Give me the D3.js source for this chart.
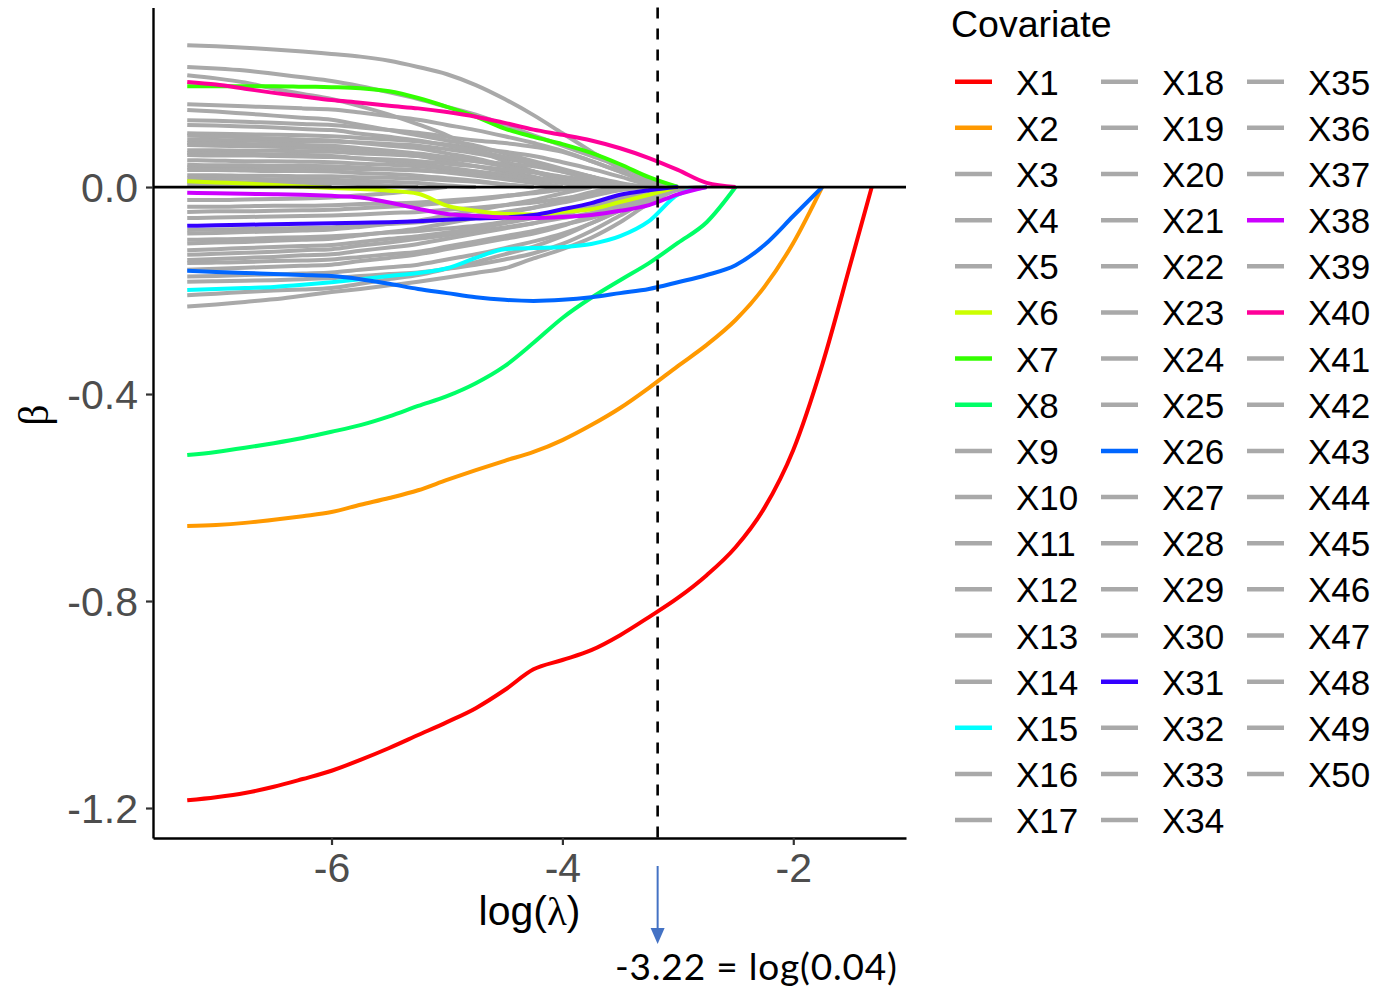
<!DOCTYPE html>
<html>
<head>
<meta charset="utf-8">
<script src="https://cdn.jsdelivr.net/npm/d3@7"></script>
<style>
  body { margin: 0; background: #fff; }
  svg text { font-family: "Liberation Sans", Arial, sans-serif; }
</style>
</head>
<body>
<div id="maViz"></div>
<script>
// grille des log(lambda) (chemin lasso)
const logLambda = [-7.25, -7, -6.75, -6.5, -6.25, -6, -5.75, -5.5, -5.25, -5, -4.75, -4.5,
  -4.25, -4, -3.75, -3.5, -3.25, -3, -2.75, -2.5, -2.25, -2, -1.75, -1.5, -1.32];

const covariates = d3.range(1, 51).map(i => "X" + i);

// coefficients beta le long de la grille, un tableau par covariable (X1 ... X50)
// chaque chemin s'arrete quand il atteint 0
const betaPaths = [
  /* X1 */ [-1.185,-1.179,-1.171,-1.159,-1.144,-1.128,-1.107,-1.084,-1.059,-1.034,-1.007,-0.972,-0.932,-0.914,-0.895,-0.866,-0.831,-0.794,-0.750,-0.696,-0.620,-0.508,-0.344,-0.145,0],
  /* X2 */ [-0.655,-0.653,-0.649,-0.643,-0.636,-0.628,-0.614,-0.601,-0.586,-0.566,-0.547,-0.529,-0.512,-0.489,-0.460,-0.427,-0.388,-0.346,-0.305,-0.257,-0.193,-0.108,0],
  /* X3 */ [.274,.272,.269,.266,.262,.257,.252,.244,.232,.218,.197,.170,.139,.104,.069,.035,.005,0],
  /* X4 */ [-.231,-.227,-.222,-.217,-.210,-.203,-.197,-.190,-.183,-.175,-.166,-.157,-.138,-.120,-.098,-.068,-.032,-.006,0],
  /* X5 */ [.160,.158,.156,.154,.152,.150,.144,.137,.130,.120,.110,.098,.085,.070,.050,.030,.010,0],
  /* X6 */ [0.011,0.009,0.007,0.004,0.001,-0.002,-0.004,-0.007,-0.013,-0.036,-0.046,-0.052,-0.053,-0.048,-0.043,-0.029,-0.015,0],
  /* X7 */ [0.195,0.195,0.195,0.195,0.194,0.193,0.191,0.185,0.172,0.155,0.136,0.113,0.097,0.083,0.066,0.044,0.019,0],
  /* X8 */ [-0.518,-0.512,-0.504,-0.495,-0.485,-0.473,-0.460,-0.443,-0.423,-0.404,-0.379,-0.346,-0.301,-0.253,-0.214,-0.180,-0.147,-0.108,-0.068,0],
  /* X9 */ [.232,.229,.225,.219,.212,.205,.195,.183,.170,.155,.140,.120,.100,.080,.060,.040,.015,0],
  /* X10 */ [-.025,-.025,-.024,-.023,-.022,-.020,-.016,-.012,-.006,0],
  /* X11 */ [.091,.091,.090,.089,.089,.088,.086,.083,.080,.073,.065,.055,.045,.032,.020,.005,0],
  /* X12 */ [-.109,-.107,-.106,-.104,-.102,-.100,-.093,-.087,-.080,-.070,-.060,-.050,-.040,-.025,-.010,0],
  /* X13 */ [.129,.128,.126,.124,.122,.120,.115,.110,.105,.097,.090,.085,.078,.068,.050,.030,.010,0],
  /* X14 */ [-.147,-.146,-.145,-.143,-.142,-.140,-.135,-.130,-.125,-.115,-.105,-.095,-.085,-.073,-.060,-.042,-.020,-.004,0],
  /* X15 */ [-0.199,-0.197,-0.195,-0.193,-0.189,-0.184,-0.178,-0.172,-0.166,-0.157,-0.137,-0.120,-0.118,-0.116,-0.110,-0.095,-0.066,-0.015,0],
  /* X16 */ [.216,.210,.202,.190,.180,.170,.156,.140,.121,.100,.072,.050,.030,.012,0],
  /* X17 */ [-.048,-.047,-.047,-.046,-.045,-.044,-.041,-.038,-.035,-.030,-.025,-.018,-.010,0],
  /* X18 */ [.071,.071,.070,.070,.069,.068,.065,.063,.060,.055,.050,.045,.040,.030,.020,.008,0],
  /* X19 */ [-.173,-.172,-.170,-.169,-.167,-.165,-.160,-.155,-.150,-.140,-.130,-.118,-.105,-.090,-.070,-.045,-.020,0],
  /* X20 */ [.104,.103,.102,.101,.100,.098,.095,.092,.088,.082,.075,.068,.060,.048,.035,.020,.005,0],
  /* X21 */ [-.083,-.082,-.081,-.080,-.079,-.078,-.075,-.071,-.068,-.062,-.055,-.048,-.040,-.030,-.018,-.006,0],
  /* X22 */ [.017,.016,.016,.015,.015,.014,.012,.010,.008,.003,0],
  /* X23 */ [-.131,-.129,-.127,-.125,-.122,-.120,-.113,-.107,-.100,-.093,-.085,-.078,-.070,-.060,-.050,-.035,-.015,0],
  /* X24 */ [.149,.146,.142,.138,.134,.130,.120,.110,.100,.090,.080,.065,.050,.035,.020,.005,0],
  /* X25 */ [-.209,-.206,-.203,-.200,-.198,-.195,-.187,-.178,-.170,-.158,-.145,-.130,-.115,-.095,-.070,-.045,-.020,0],
  /* X26 */ [-0.162,-0.164,-0.166,-0.168,-0.170,-0.172,-0.178,-0.187,-0.197,-0.205,-0.213,-0.218,-0.220,-0.218,-0.213,-0.205,-0.197,-0.184,-0.170,-0.151,-0.112,-0.056,0],
  /* X27 */ [.081,.080,.079,.078,.076,.075,.070,.065,.060,.050,.040,.030,.020,.008,0],
  /* X28 */ [-.038,-.038,-.037,-.036,-.036,-.035,-.033,-.032,-.030,-.026,-.022,-.017,-.012,-.005,0],
  /* X29 */ [.052,.051,.050,.050,.049,.048,.045,.043,.040,.035,.030,.024,.018,.010,0],
  /* X30 */ [-.102,-.101,-.100,-.098,-.097,-.095,-.092,-.088,-.085,-.080,-.075,-.067,-.058,-.047,-.035,-.020,-.006,0],
  /* X31 */ [-0.075,-0.074,-0.073,-0.072,-0.071,-0.070,-0.069,-0.068,-0.066,-0.063,-0.061,-0.059,-0.054,-0.043,-0.031,-0.015,-0.006,0],
  /* X32 */ [.120,.119,.117,.115,.112,.110,.103,.097,.090,.080,.070,.058,.045,.030,.015,0],
  /* X33 */ [-.183,-.182,-.181,-.180,-.178,-.176,-.172,-.168,-.165,-.158,-.150,-.140,-.128,-.110,-.085,-.055,-.025,-.005,0],
  /* X34 */ [.038,.038,.037,.037,.036,.036,.035,.034,.032,.029,.025,.020,.015,.008,0],
  /* X35 */ [-.122,-.120,-.118,-.116,-.114,-.112,-.106,-.100,-.095,-.088,-.080,-.070,-.060,-.050,-.040,-.025,-.010,0],
  /* X36 */ [.099,.098,.096,.094,.092,.090,.085,.080,.075,.065,.055,.042,.030,.015,0],
  /* X37 */ [-.060,-.059,-.058,-.057,-.056,-.055,-.053,-.050,-.048,-.044,-.040,-.035,-.030,-.022,-.015,-.005,0],
  /* X38 */ [-0.011,-0.012,-0.013,-0.014,-0.015,-0.017,-0.020,-0.030,-0.042,-0.052,-0.056,-0.059,-0.060,-0.058,-0.054,-0.046,-0.035,-0.014,0],
  /* X39 */ [.085,.084,.083,.082,.081,.080,.075,.070,.065,.058,.050,.040,.030,.018,.006,0],
  /* X40 */ [0.203,0.198,0.190,0.182,0.175,0.168,0.163,0.157,0.152,0.145,0.136,0.124,0.111,0.101,0.090,0.075,0.056,0.033,0.008,0],
  /* X41 */ [-.160,-.158,-.156,-.154,-.152,-.150,-.143,-.137,-.130,-.120,-.110,-.100,-.090,-.075,-.055,-.035,-.015,0],
  /* X42 */ [.066,.065,.064,.063,.062,.060,.055,.050,.045,.038,.030,.020,.010,0],
  /* X43 */ [-.090,-.089,-.087,-.086,-.084,-.082,-.077,-.071,-.065,-.055,-.045,-.035,-.025,-.012,0],
  /* X44 */ [.043,.042,.042,.041,.041,.040,.038,.035,.033,.028,.022,.015,.008,0],
  /* X45 */ [-.141,-.139,-.137,-.135,-.132,-.130,-.123,-.117,-.110,-.100,-.090,-.080,-.070,-.055,-.038,-.020,-.005,0],
  /* X46 */ [.062,.061,.061,.060,.059,.058,.055,.053,.050,.045,.040,.034,.028,.020,.012,0],
  /* X47 */ [.033,.033,.032,.031,.031,.030,.027,.025,.022,.017,.012,.005,0],
  /* X48 */ [.023,.023,.022,.022,.021,.021,.019,.018,.016,.013,.010,.005,0],
  /* X49 */ [.010,.010,.009,.009,.008,.008,.006,.003,0],
  /* X50 */ [.005,.004,.004,.003,.002,0]
];

// covariables mises en couleur (rainbow(10)), les autres en gris
const highlighted = ["X1", "X2", "X6", "X7", "X8", "X15", "X26", "X31", "X38", "X40"];
const highlightColors = ["#FF0000", "#FF9900", "#CCFF00", "#33FF00", "#00FF66",
  "#00FFFF", "#0066FF", "#3300FF", "#CC00FF", "#FF0099"];

const xTicks = [-6, -4, -2];
const yTicks = [0, -0.4, -0.8, -1.2];
const lambdaLine = -3.175;            // ligne pointillee (lambda choisi)
const lambdaLabel = "-3.22 = log(0.04)";

//////////////////////////////////////////////////////////

const W = 1399, H = 989;
const panel = {left: 153, right: 906, top: 7.5, bottom: 838};
const grey = "#A9A9A9";
const symbolFont = "'Liberation Serif', 'DejaVu Serif', serif";

const colorOf = name => {
  const k = highlighted.indexOf(name);
  return k >= 0 ? highlightColors[k] : grey;
};

const svg = d3.select("#maViz").append("svg")
  .attr("width", W).attr("height", H);

// echelles avec 5% d'expansion comme ggplot
const xExt = d3.extent(logLambda);
const xPad = (xExt[1] - xExt[0]) * 0.05;
const x = d3.scaleLinear()
  .domain([xExt[0] - xPad, xExt[1] + xPad])
  .range([panel.left, panel.right]);

const yExt = d3.extent(betaPaths.flat());
const yPad = (yExt[1] - yExt[0]) * 0.05;
const y = d3.scaleLinear()
  .domain([yExt[0] - yPad, yExt[1] + yPad])
  .range([panel.bottom, panel.top]);

// chemins : gris d'abord, couleurs par-dessus
const line = d3.line()
  .x((d, i) => x(logLambda[i]))
  .y(d => y(d))
  .curve(d3.curveMonotoneX);

const paths = covariates.map((name, k) => ({name, values: betaPaths[k]}));
const ordered = paths.filter(p => !highlighted.includes(p.name))
  .concat(paths.filter(p => highlighted.includes(p.name)));

svg.append("g").selectAll("path")
  .data(ordered)
  .join("path")
    .attr("d", d => line(d.values))
    .attr("fill", "none")
    .attr("stroke", d => colorOf(d.name))
    .attr("stroke-width", 4)
    .attr("stroke-linejoin", "round")
    .attr("stroke-linecap", "butt");

// ligne horizontale a 0
svg.append("line")
  .attr("x1", panel.left).attr("x2", panel.right)
  .attr("y1", y(0)).attr("y2", y(0))
  .attr("stroke", "#000").attr("stroke-width", 2.8);

// ligne verticale pointillee
svg.append("line")
  .attr("x1", x(lambdaLine)).attr("x2", x(lambdaLine))
  .attr("y1", panel.top).attr("y2", panel.bottom)
  .attr("stroke", "#000").attr("stroke-width", 2.6)
  .attr("stroke-dasharray", "11,10");

// axes
const yAxis = svg.append("g")
  .attr("transform", `translate(${panel.left},0)`)
  .call(d3.axisLeft(y).tickValues(yTicks).tickFormat(d => d.toFixed(1))
    .tickSize(7).tickSizeOuter(0).tickPadding(8));

const xAxis = svg.append("g")
  .attr("transform", `translate(0,${panel.bottom})`)
  .call(d3.axisBottom(x).tickValues(xTicks).tickFormat(d => String(d))
    .tickSize(7).tickSizeOuter(0).tickPadding(8));

[xAxis, yAxis].forEach(g => {
  g.select(".domain").attr("stroke", "#000").attr("stroke-width", 2.4);
  g.selectAll(".tick line").attr("stroke", "#333").attr("stroke-width", 2.2);
  g.selectAll(".tick text")
    .attr("fill", "#4D4D4D")
    .style("font-size", "41px")
    .style("font-family", "'Liberation Sans', Arial, sans-serif");
});
yAxis.selectAll(".tick text").attr("dy", "0.36em");

// titres des axes
const xTitle = svg.append("text")
  .attr("x", (panel.left + panel.right) / 2).attr("y", 925)
  .attr("text-anchor", "middle")
  .style("font-size", "41px");
xTitle.append("tspan").text("log(");
xTitle.append("tspan").style("font-family", symbolFont).text("λ");
xTitle.append("tspan").text(")");

svg.append("text")
  .attr("transform", "translate(48,415) rotate(-90)")
  .attr("text-anchor", "middle")
  .style("font-family", symbolFont)
  .style("font-size", "42px")
  .text("β");

// annotation fleche + texte
const ax = x(lambdaLine);
svg.append("line")
  .attr("x1", ax).attr("x2", ax).attr("y1", 866).attr("y2", 930)
  .attr("stroke", "#4472C4").attr("stroke-width", 2);
svg.append("path")
  .attr("d", `M${ax - 7},928 L${ax + 7},928 L${ax},944 Z`)
  .attr("fill", "#4472C4");
svg.append("text")
  .attr("x", 615).attr("y", 980)
  .attr("textLength", 282).attr("lengthAdjust", "spacing")
  .style("font-family", "Lato, 'Open Sans', sans-serif")
  .style("font-size", "37px")
  .text(lambdaLabel);

// legende
const legend = svg.append("g");
legend.append("text")
  .attr("x", 951).attr("y", 36.5)
  .style("font-size", "37.5px")
  .text("Covariate");

const rows = 17, rowH = 46.15, colW = 146;
const items = legend.selectAll("g.item")
  .data(covariates)
  .join("g")
    .attr("class", "item")
    .attr("transform", (d, i) =>
      `translate(${955 + Math.floor(i / rows) * colW},${81.7 + (i % rows) * rowH})`);

items.append("line")
  .attr("x1", 0).attr("x2", 37)
  .attr("stroke", d => colorOf(d))
  .attr("stroke-width", 4.5);

items.append("text")
  .attr("x", 61).attr("y", 13)
  .style("font-size", "35px")
  .text(d => d);
</script>
</body>
</html>
